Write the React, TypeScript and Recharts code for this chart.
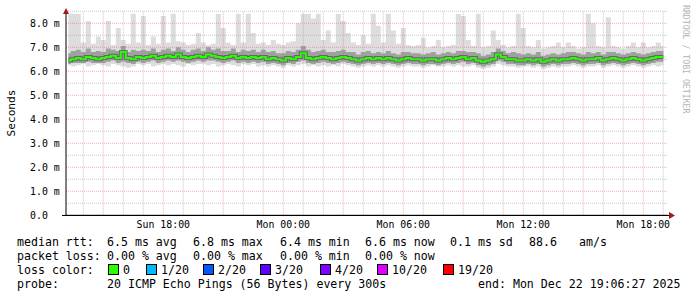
import React from 'react';
import { ComposedChart, Area, Line, XAxis, YAxis, ReferenceLine } from 'recharts';

// 15 minute slots, Sun 13:15 .. Mon 19:00
const startHour = 13.25;
const stepHours = 0.25;

const median = [
  6.45, 6.5, 6.55, 6.5, 6.6, 6.55, 6.5, 6.55, 6.6, 6.65, 6.55, 6.8, 6.55, 6.5, 6.6, 6.55, 6.6, 6.65, 6.55, 6.6,
  6.65, 6.6, 6.7, 6.6, 6.55, 6.6, 6.65, 6.6, 6.7, 6.65, 6.6, 6.55, 6.6, 6.65, 6.55, 6.6, 6.55, 6.6, 6.55, 6.6,
  6.5, 6.55, 6.5, 6.45, 6.55, 6.5, 6.6, 6.75, 6.55, 6.5, 6.55, 6.6, 6.55, 6.5, 6.55, 6.6, 6.55, 6.5, 6.45, 6.5,
  6.55, 6.5, 6.55, 6.5, 6.55, 6.5, 6.45, 6.5, 6.55, 6.5, 6.5, 6.45, 6.5, 6.5, 6.45, 6.5, 6.55, 6.5, 6.55, 6.6,
  6.5, 6.55, 6.45, 6.4, 6.45, 6.5, 6.7, 6.6, 6.5, 6.5, 6.45, 6.45, 6.5, 6.45, 6.5, 6.4, 6.45, 6.5, 6.45, 6.5,
  6.5, 6.55, 6.5, 6.45, 6.5, 6.5, 6.55, 6.45, 6.5, 6.55, 6.5, 6.45, 6.5, 6.55, 6.5, 6.45, 6.5, 6.55, 6.6, 6.6,
];

const lightHi = [
  8.4, 8.4, 8.4, 7.2, 8.1, 7.15, 7.45, 7.3, 8.1, 7.1, 7.8, 7.3, 7.15, 8.4, 7.2, 8.3, 7.1, 7.45, 7.15, 8.3,
  7.2, 8.4, 7.25, 7.2, 7.1, 7.15, 7.6, 7.2, 7.1, 7.15, 8.4, 7.8, 7.2, 7.1, 8.4, 7.2, 8.4, 7.6, 7.15, 7.2,
  7.1, 7.3, 7.15, 7.1, 7.2, 7.25, 8.0, 8.4, 8.4, 8.2, 8.4, 7.3, 7.7, 7.2, 8.4, 8.1, 7.6, 7.2, 7.1, 7.5,
  7.15, 8.4, 7.9, 7.2, 8.4, 7.7, 7.15, 7.8, 7.1, 7.05, 7.1, 7.4, 7.0, 7.05, 7.3, 7.0, 7.05, 7.1, 8.4, 8.3,
  7.3, 7.05, 8.4, 7.0, 7.05, 7.7, 7.3, 7.1, 7.0, 7.05, 8.4, 7.8, 7.05, 7.0, 7.3, 6.95, 7.0, 7.05, 7.2, 7.0,
  7.2, 7.05, 6.95, 7.0, 8.4, 8.0, 7.05, 7.0, 8.25, 7.05, 7.0, 6.95, 7.05, 7.2, 7.0, 7.2, 7.0, 7.05, 7.2, 7.05,
];

const lightLo = [
  6.25, 6.2, 6.25, 6.3, 6.2, 6.25, 6.3, 6.25, 6.2, 6.3, 6.25, 6.2, 6.15, 6.2, 6.3, 6.25, 6.3, 6.2, 6.25, 6.3,
  6.25, 6.3, 6.25, 6.2, 6.3, 6.25, 6.3, 6.3, 6.25, 6.3, 6.2, 6.25, 6.3, 6.25, 6.2, 6.3, 6.25, 6.3, 6.2, 6.25,
  6.2, 6.25, 6.2, 6.15, 6.25, 6.2, 6.25, 6.3, 6.2, 6.25, 6.2, 6.25, 6.2, 6.25, 6.2, 6.3, 6.25, 6.2, 6.15, 6.2,
  6.25, 6.2, 6.25, 6.2, 6.25, 6.2, 6.15, 6.2, 6.25, 6.2, 6.2, 6.15, 6.2, 6.25, 6.2, 6.2, 6.25, 6.2, 6.25, 6.2,
  6.2, 6.25, 6.15, 6.1, 6.15, 6.2, 6.3, 6.25, 6.2, 6.2, 6.15, 6.2, 6.2, 6.15, 6.2, 6.1, 6.15, 6.2, 6.15, 6.2,
  6.2, 6.25, 6.2, 6.15, 6.2, 6.2, 6.25, 6.15, 6.2, 6.25, 6.2, 6.15, 6.2, 6.25, 6.2, 6.15, 6.2, 6.25, 6.2, 6.25,
];

const midHi = [
  6.75, 6.85, 6.9, 6.8, 6.95, 6.8, 6.85, 6.8, 6.95, 6.9, 6.85, 7.05, 6.8, 6.9, 6.85, 6.9, 6.85, 6.95, 6.8, 6.9,
  6.95, 6.85, 7.0, 6.9, 6.8, 6.9, 6.95, 6.85, 7.0, 6.9, 6.95, 6.85, 6.85, 6.95, 6.8, 6.9, 6.85, 6.9, 6.8, 6.9,
  6.8, 6.85, 6.75, 6.75, 6.85, 6.8, 6.9, 7.05, 6.9, 6.8, 6.85, 6.9, 6.8, 6.8, 6.85, 6.9, 6.8, 6.8, 6.7, 6.8,
  6.85, 6.75, 6.8, 6.75, 6.85, 6.75, 6.7, 6.8, 6.8, 6.75, 6.75, 6.7, 6.75, 6.8, 6.7, 6.75, 6.8, 6.75, 6.85, 6.85,
  6.8, 6.8, 6.75, 6.65, 6.7, 6.8, 6.95, 6.85, 6.75, 6.8, 6.75, 6.7, 6.75, 6.7, 6.8, 6.65, 6.7, 6.75, 6.7, 6.75,
  6.8, 6.8, 6.75, 6.7, 6.8, 6.75, 6.8, 6.7, 6.8, 6.8, 6.75, 6.7, 6.75, 6.8, 6.75, 6.7, 6.75, 6.8, 6.85, 6.85,
];

const midLo = [
  6.3, 6.35, 6.35, 6.35, 6.4, 6.35, 6.35, 6.35, 6.4, 6.45, 6.35, 6.4, 6.35, 6.3, 6.4, 6.35, 6.4, 6.45, 6.35, 6.4,
  6.45, 6.4, 6.45, 6.4, 6.35, 6.4, 6.45, 6.4, 6.45, 6.45, 6.4, 6.35, 6.4, 6.45, 6.35, 6.4, 6.35, 6.4, 6.35, 6.4,
  6.3, 6.35, 6.3, 6.25, 6.35, 6.3, 6.4, 6.45, 6.35, 6.3, 6.35, 6.4, 6.35, 6.3, 6.35, 6.4, 6.35, 6.3, 6.25, 6.3,
  6.35, 6.3, 6.35, 6.3, 6.35, 6.3, 6.25, 6.3, 6.35, 6.3, 6.3, 6.25, 6.3, 6.3, 6.25, 6.3, 6.35, 6.3, 6.35, 6.4,
  6.3, 6.35, 6.25, 6.2, 6.25, 6.3, 6.45, 6.4, 6.3, 6.3, 6.25, 6.25, 6.3, 6.25, 6.3, 6.2, 6.25, 6.3, 6.25, 6.3,
  6.3, 6.35, 6.3, 6.25, 6.3, 6.3, 6.35, 6.25, 6.3, 6.35, 6.3, 6.25, 6.3, 6.35, 6.3, 6.25, 6.3, 6.35, 6.4, 6.4,
];

const xTickHours = [18, 24, 30, 36, 42];
const xTickLabels = ['Sun 18:00', 'Mon 00:00', 'Mon 06:00', 'Mon 12:00', 'Mon 18:00'];
const yTicks = [0, 1, 2, 3, 4, 5, 6, 7, 8];
const yTickLabels = ['0.0', '1.0 m', '2.0 m', '3.0 m', '4.0 m', '5.0 m', '6.0 m', '7.0 m', '8.0 m'];
const minorHours = [14, 16, 17, 19, 20, 22, 23, 25, 26, 28, 29, 31, 32, 34, 35, 37, 38, 40, 41, 43];
const majorHours = [15, 18, 21, 24, 27, 30, 33, 36, 39, 42];
const minorMs = [0.5, 1.5, 2.5, 3.5, 4.5, 5.5, 6.5, 7.5, 8.5];
const majorMs = [1, 2, 3, 4, 5, 6, 7, 8];

const rttLabels = ['6.5 ms avg', '6.8 ms max', '6.4 ms min', '6.6 ms now', '0.1 ms sd', '88.6', 'am/s'];
const lossLabels = ['0.00 % avg', '0.00 % max', '0.00 % min', '0.00 % now'];
const lossNames = ['0', '1/20', '2/20', '3/20', '4/20', '10/20', '19/20'];
const lossColors = ['#26ff00', '#00b8ff', '#0059ff', '#5e00ff', '#7e00ff', '#dd00ff', '#ff0000'];

const statX = [107, 193, 280, 365, 450, 529, 579];
const swatchX = [108, 146, 203, 260, 320, 377, 443];

const MONO = '"DejaVu Sans Mono", monospace';
const MINOR = 'rgba(150,150,150,0.5)';
const MAJOR = 'rgba(220,90,90,0.45)';
const ARROW = '#a01818';

const rows = median.map((m, i) => ({
  t: startHour + i * stepHours,
  median: m,
  light: [lightLo[i], lightHi[i]],
  mid: [midLo[i], midHi[i]],
}));

const Txt = ({ x, y, children }: { x: number; y: number; children: React.ReactNode }) => (
  <div style={{ position: 'absolute', left: x, top: y, fontFamily: MONO, fontSize: 11.6, lineHeight: '14px', whiteSpace: 'pre', color: '#000' }}>
    {children}
  </div>
);

export default function App() {
  return (
    <div style={{ position: 'absolute', left: 0, top: 0, width: 697, height: 297, background: '#fff', overflow: 'hidden' }}>
      <ComposedChart width={697} height={297} data={rows} margin={{ top: 11, right: 29, bottom: 61.7, left: 30 }}>
        <XAxis
          dataKey="t"
          type="number"
          domain={[13.135, 43.235]}
          allowDataOverflow
          ticks={xTickHours}
          height={20}
          axisLine={{ stroke: '#000', strokeWidth: 1 }}
          tickLine={false}
          tick={({ x, y, index }: any) => (
            <text x={x} y={y} dy={5} textAnchor="middle" fontFamily={MONO} fontSize={9.9} fill="#000">
              {xTickLabels[index]}
            </text>
          )}
        />
        <YAxis
          type="number"
          domain={[0, 8.5125]}
          allowDataOverflow
          ticks={yTicks}
          width={36}
          axisLine={{ stroke: '#000', strokeWidth: 1 }}
          tickLine={false}
          tick={({ y, index }: any) => (
            <text x={30} y={y} dy={3.5} textAnchor="start" fontFamily={MONO} fontSize={9.9} fill="#000">
              {yTickLabels[index]}
            </text>
          )}
        />
        <Area dataKey="light" type="step" fill="#dddddd" fillOpacity={1} stroke="none" isAnimationActive={false} />
        <Area dataKey="mid" type="step" fill="#a0a0a0" fillOpacity={1} stroke="none" isAnimationActive={false} />
        <Line dataKey="median" type="step" stroke="#404040" strokeOpacity={0.6} strokeWidth={4} dot={false} activeDot={false} isAnimationActive={false} />
        <Line dataKey="median" type="step" stroke="#26ff00" strokeWidth={2} dot={false} activeDot={false} isAnimationActive={false} />
        {minorMs.map((v) => (
          <ReferenceLine key={`hm${v}`} y={v} stroke={MINOR} strokeDasharray="1 1" />
        ))}
        {majorMs.map((v) => (
          <ReferenceLine key={`hM${v}`} y={v} stroke={MAJOR} strokeDasharray="1 1" />
        ))}
        {minorHours.map((h) => (
          <ReferenceLine key={`vm${h}`} x={h} stroke={MINOR} strokeDasharray="1 1" />
        ))}
        {majorHours.map((h) => (
          <ReferenceLine key={`vM${h}`} x={h} stroke={MAJOR} strokeDasharray="1 1" />
        ))}
      </ComposedChart>

      <svg width={697} height={297} style={{ position: 'absolute', left: 0, top: 0, pointerEvents: 'none' }}>
        <line x1={62} y1={215.5} x2={669} y2={215.5} stroke="#000" />
        <polygon points="669,212 675,215.5 669,219" fill={ARROW} />
        <polygon points="63,14 66,8 69,14" fill={ARROW} />
        <text x={11} y={113} transform="rotate(-90 11 113)" textAnchor="middle" dominantBaseline="central" fontFamily={MONO} fontSize={11.2} fill="#000">
          Seconds
        </text>
        <text x={686} y={5} transform="rotate(90 686 5)" textAnchor="start" dominantBaseline="central" fontFamily={MONO} fontSize={8.2} fill="#b4b4b4">
          RRDTOOL / TOBI OETIKER
        </text>
      </svg>

      <Txt x={17} y={235}>median rtt:</Txt>
      {rttLabels.map((s, i) => (
        <Txt key={s} x={statX[i]} y={235}>{s}</Txt>
      ))}
      <Txt x={17} y={249}>packet loss:</Txt>
      {lossLabels.map((s, i) => (
        <Txt key={s} x={statX[i]} y={249}>{s}</Txt>
      ))}
      <Txt x={17} y={262.5}>loss color:</Txt>
      {lossNames.map((s, i) => (
        <React.Fragment key={s}>
          <div style={{ position: 'absolute', left: swatchX[i], top: 264, width: 9, height: 9, border: '1px solid #000', background: lossColors[i] }} />
          <Txt x={swatchX[i] + 15} y={262.5}>{s}</Txt>
        </React.Fragment>
      ))}
      <Txt x={17} y={276.5}>probe:</Txt>
      <Txt x={107} y={276.5}>20 ICMP Echo Pings (56 Bytes) every 300s</Txt>
      <Txt x={478} y={276.5}>end: Mon Dec 22 19:06:27 2025</Txt>
    </div>
  );
}
